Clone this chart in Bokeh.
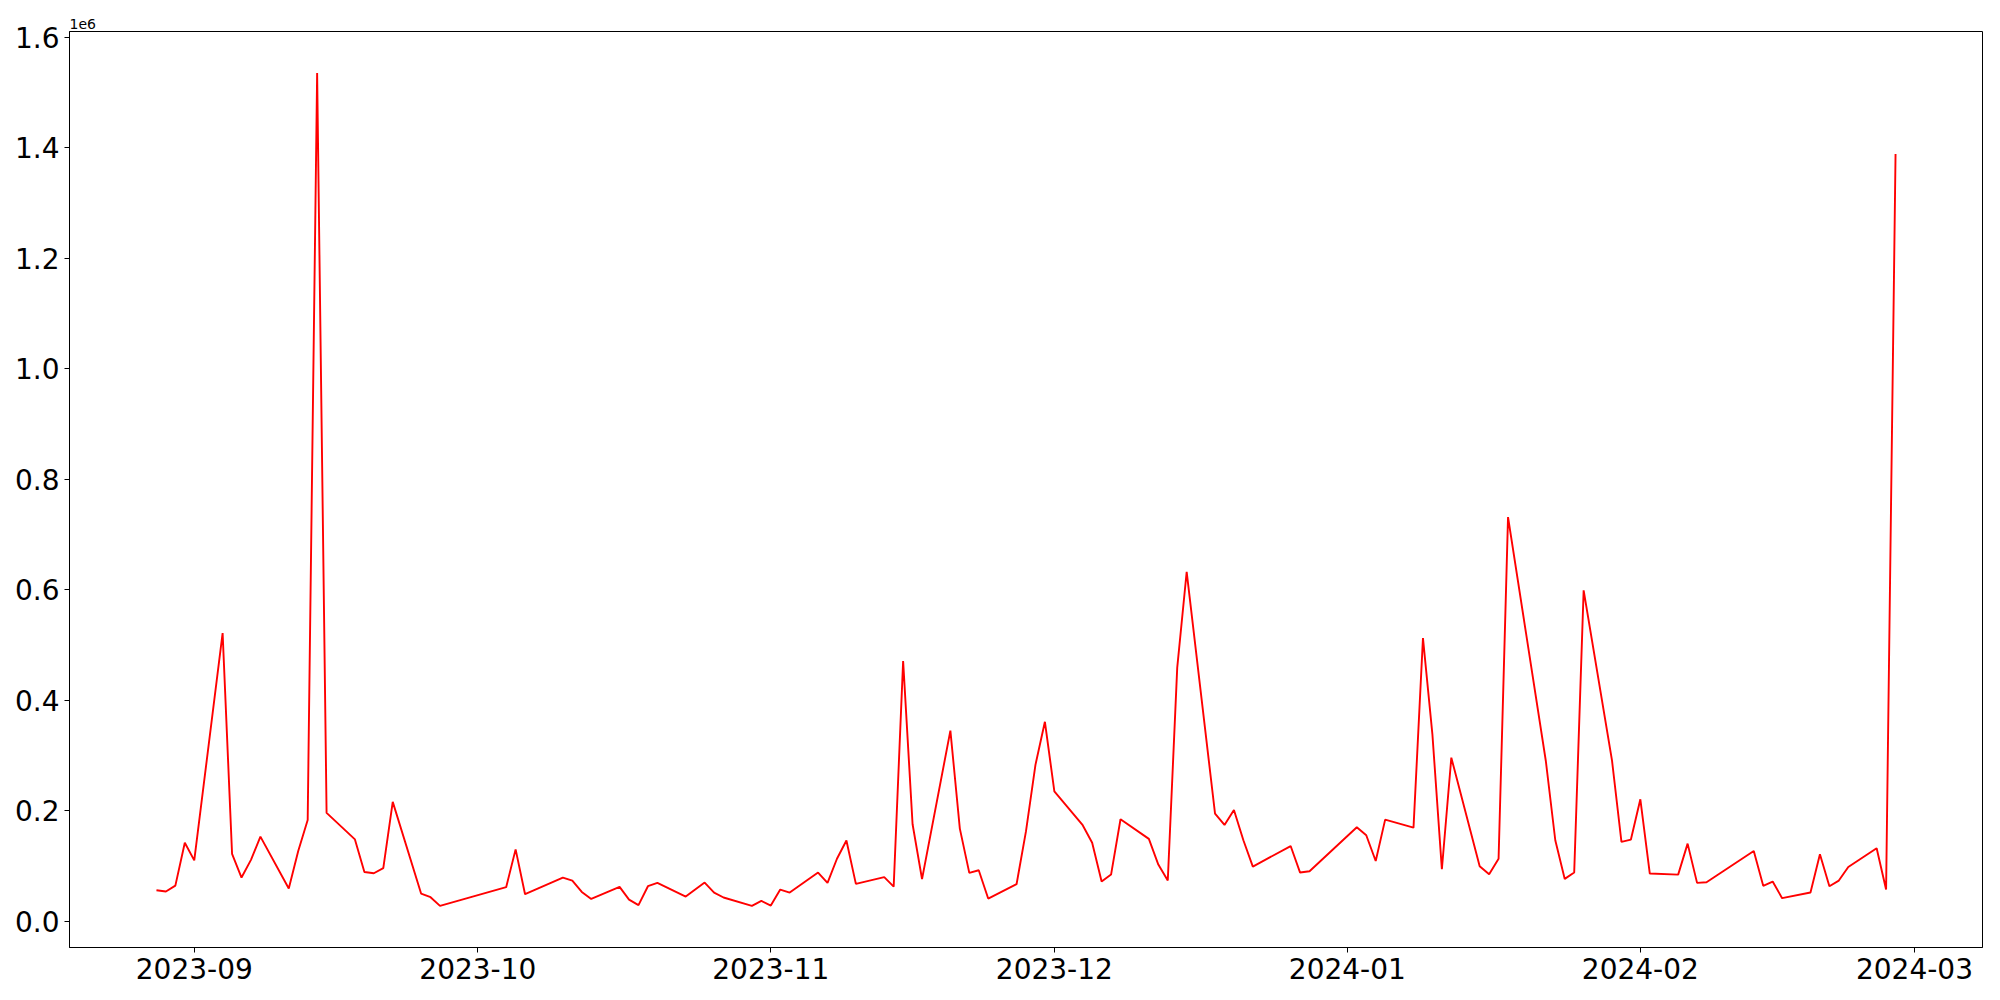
import numpy as np
import pandas as pd
from bokeh.plotting import figure
from bokeh.models import (Range1d, FixedTicker, DatetimeTickFormatter,
                          CustomJSTickFormatter, ColumnDataSource)
from bokeh.embed import file_html
from bokeh.resources import INLINE

dates = ["2023-08-28", "2023-08-29", "2023-08-30", "2023-08-31", "2023-09-01",
         "2023-09-04", "2023-09-05", "2023-09-06", "2023-09-07", "2023-09-08",
         "2023-09-11", "2023-09-12", "2023-09-13", "2023-09-14", "2023-09-15",
         "2023-09-18", "2023-09-19", "2023-09-20", "2023-09-21", "2023-09-22",
         "2023-09-25", "2023-09-26", "2023-09-27",
         "2023-10-04", "2023-10-05", "2023-10-06", "2023-10-10", "2023-10-11",
         "2023-10-12", "2023-10-13", "2023-10-16", "2023-10-17", "2023-10-18",
         "2023-10-19", "2023-10-20", "2023-10-23", "2023-10-25", "2023-10-26",
         "2023-10-27", "2023-10-30", "2023-10-31",
         "2023-11-01", "2023-11-02", "2023-11-03", "2023-11-06", "2023-11-07",
         "2023-11-08", "2023-11-09", "2023-11-10", "2023-11-13", "2023-11-14",
         "2023-11-15", "2023-11-16", "2023-11-17", "2023-11-20", "2023-11-21",
         "2023-11-22", "2023-11-23", "2023-11-24", "2023-11-27", "2023-11-28",
         "2023-11-29", "2023-11-30",
         "2023-12-01", "2023-12-04", "2023-12-05", "2023-12-06", "2023-12-07",
         "2023-12-08", "2023-12-11", "2023-12-12", "2023-12-13", "2023-12-14",
         "2023-12-15", "2023-12-18", "2023-12-19", "2023-12-20", "2023-12-21",
         "2023-12-22", "2023-12-26", "2023-12-27", "2023-12-28",
         "2024-01-02", "2024-01-03", "2024-01-04", "2024-01-05", "2024-01-08",
         "2024-01-09", "2024-01-10", "2024-01-11", "2024-01-12", "2024-01-15",
         "2024-01-16", "2024-01-17", "2024-01-18", "2024-01-22", "2024-01-23",
         "2024-01-24", "2024-01-25", "2024-01-26", "2024-01-29", "2024-01-30",
         "2024-01-31",
         "2024-02-01", "2024-02-02", "2024-02-05", "2024-02-06", "2024-02-07",
         "2024-02-08", "2024-02-13", "2024-02-14", "2024-02-15", "2024-02-16",
         "2024-02-19", "2024-02-20", "2024-02-21", "2024-02-22", "2024-02-23",
         "2024-02-26", "2024-02-27", "2024-02-28"]

values = [56000, 53600, 64400, 142000, 110000,
          521600, 122000, 79000, 111000, 153000,
          59000, 127000, 183000, 1535400, 196000,
          148000, 89000, 86800, 95900, 216000,
          50000, 43400, 27700,
          61500, 130000, 48800, 79000, 73500,
          53000, 40300, 62000, 39000, 29000,
          63300, 69300, 44500, 69900, 51800,
          42800, 27700, 36700,
          28300, 57200, 51800, 88000, 69300,
          113000, 146000, 67500, 79600, 62600,
          471000, 175500, 76000, 345000, 167600,
          87400, 92200, 40900, 66900, 163000,
          283000, 361000,
          235000, 173700, 142000, 71700, 84300,
          184500, 149000, 102400, 73500, 459000,
          632600, 194700, 174200, 201400, 146500,
          98800, 136000, 88000, 90400,
          170000, 155600, 109000, 183900, 169400,
          512600, 338000, 94000, 296000, 99500,
          85000, 113000, 731500, 290000, 146500,
          76500, 88000, 599000, 291000, 143500,
          147700,
          220700, 86200, 84300, 140400, 69300,
          70500, 127000, 63900, 71700, 41600,
          51800, 121000, 63300, 73500, 98200,
          132000, 57200, 1388800]

month_ticks = ["2023-09-01", "2023-10-01", "2023-11-01", "2023-12-01",
               "2024-01-01", "2024-02-01", "2024-03-01"]
y_ticks = [0, 200000, 400000, 600000, 800000, 1000000, 1200000, 1400000, 1600000]
offset_text = "1e6"

assert len(dates) == len(values)

def to_ms(s):
    t = pd.to_datetime(s)
    return ((t - pd.Timestamp("1970-01-01")) // pd.Timedelta("1ms")).astype("int64")

x_ms = np.asarray(to_ms(dates), dtype=float)
v = np.asarray(values, dtype=float)
xspan = x_ms.max() - x_ms.min()
x0, x1 = x_ms.min() - 0.05 * xspan, x_ms.max() + 0.05 * xspan
yspan = v.max() - v.min()
y0, y1 = v.min() - 0.05 * yspan, v.max() + 0.05 * yspan

source = ColumnDataSource(dict(x=x_ms, y=v))

p = figure(x_axis_type="datetime", frame_width=1913, frame_height=916,
           x_range=Range1d(x0, x1), y_range=Range1d(y0, y1),
           output_backend="svg", toolbar_location=None,
           min_border_left=69, min_border_top=31, min_border_right=10,
           min_border_bottom=46, background_fill_color="white",
           border_fill_color="white")

p.title.text = offset_text
p.title.align = "left"
p.title.text_font = "DejaVu Sans"
p.title.text_font_size = "14px"
p.title.text_font_style = "normal"
p.title.text_color = "black"
p.title.standoff = 6
p.title.offset = 0

p.line("x", "y", source=source, line_color="red", line_width=1.9)

p.xaxis.ticker = FixedTicker(ticks=list(np.asarray(to_ms(month_ticks), dtype=float)))
fmt = "%Y-%m"
p.xaxis.formatter = DatetimeTickFormatter(
    milliseconds=fmt, seconds=fmt, minsec=fmt, minutes=fmt, hourmin=fmt,
    hours=fmt, days=fmt, months=fmt, years=fmt)
p.yaxis.ticker = FixedTicker(ticks=y_ticks)
p.yaxis.formatter = CustomJSTickFormatter(code="return (tick/1e6).toFixed(1);")

for ax in (p.xaxis, p.yaxis):
    ax.major_tick_out = 5
    ax.major_tick_in = 0
    ax.minor_tick_out = 0
    ax.minor_tick_in = 0
    ax.major_label_standoff = 5
    ax.axis_line_color = "black"
    ax.axis_line_width = 1
    ax.major_tick_line_color = "black"
    ax.major_label_text_font = "DejaVu Sans"
    ax.major_label_text_font_size = "28px"
    ax.major_label_text_color = "black"

p.grid.visible = False
p.outline_line_color = "black"
p.outline_line_alpha = 1
p.outline_line_width = 1

open("out.html", "w").write(file_html(p, INLINE))
